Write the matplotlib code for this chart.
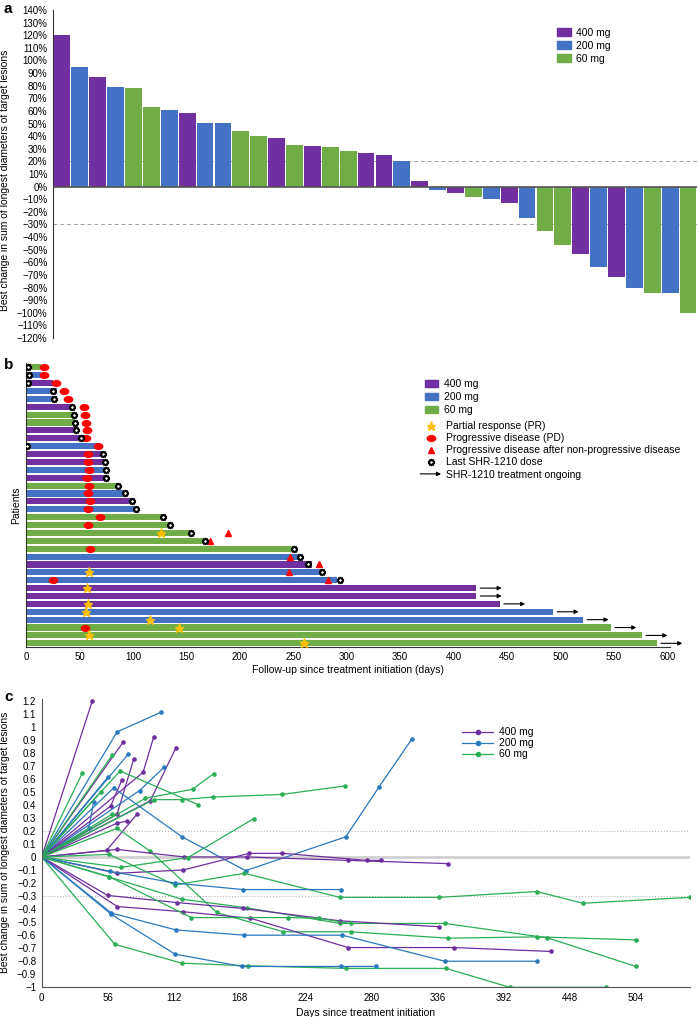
import numpy as np
import matplotlib.pyplot as plt
from matplotlib.patches import Patch, FancyArrowPatch
from matplotlib.lines import Line2D
from matplotlib.path import Path
from matplotlib.transforms import Affine2D
from matplotlib.legend_handler import HandlerBase

plt.rcParams["font.family"] = "sans-serif"
plt.rcParams["font.sans-serif"] = ["Liberation Sans", "DejaVu Sans"]
plt.rcParams["font.size"] = 7

dose_labels = ["400 mg", "200 mg", "60 mg"]
bar_colors = {400: "#7030A0", 200: "#4472C4", 60: "#70AD47"}
line_colors = {400: "#6E2F9E", 200: "#2A78BE", 60: "#2BAE55"}

# ---- panel a: best change per patient (%)
best_change = [120, 95, 87, 79, 78, 63.5, 61, 58, 50.7, 50.2, 44.3, 40, 38.5, 33.2,
               31.8, 31.3, 28.5, 26.5, 25.2, 20.2, 4.2, -2.9, -5.3, -8, -10, -13,
               -24.7, -35.3, -46, -53.3, -63.7, -72, -80.4, -84, -84, -100.3]
best_dose = [400, 200, 400, 200, 60, 60, 200, 400, 200, 200, 60, 60, 400, 60, 400, 60,
             60, 400, 400, 200, 400, 200, 400, 60, 200, 400, 200, 60, 60, 400, 200, 400,
             200, 60, 200, 60]

# ---- panel b: swimmer plot (days)
swim_dose = [60, 200, 400, 200, 200, 400, 60, 60, 400, 400, 200, 400, 400, 200, 400, 60,
             200, 400, 200, 60, 60, 60, 60, 60, 200, 400, 200, 200, 400, 400, 400, 200,
             200, 60, 60, 60]
swim_end = [14, 14, 25, 29, 29, 43, 45, 46, 48, 55, 69, 72, 73, 73, 75, 86, 92, 99, 102,
            128, 134, 154, 167, 251, 255, 268, 280, 291, 421, 421, 443, 493, 521, 547,
            576, 590]
nan = np.nan
last_dose = [2, 3, 2, 25, 26, 43, 45, 46, 47, 51, 1, 72, 74, 75, 75, 86, 93, 99, 103,
             128, 135, 154, 167, 251, 256, 264, 277, 294, nan, nan, nan, nan, nan, nan,
             nan, nan]
pd_day = [17, 17, 28, 36, 39, 54, 55, 56, 57, 56, 67, 58, 58, 59, 57, 59, 58, 60, 58, 69,
          58, nan, nan, 60, nan, nan, nan, 25, nan, nan, nan, nan, nan, 55, nan, nan]
pd_after_day = [nan] * 21 + [189, 172, nan, 247, 274, 246, 283] + [nan] * 8
pr_rows = [22, 27, 29, 31, 32, 33, 34, 35, 36]
pr_days = [126, 59, 57, 58, 56, 116, 143, 59, 260]

# ---- panel c: change over time, one list per patient
spider_dose = [400, 200, 400, 400, 400, 400, 200, 60, 60, 60, 60, 60, 200, 200, 200,
               200, 400, 400, 400, 60, 60, 400, 400, 60, 60, 200, 60, 400, 400, 60, 60,
               200, 200, 60]
spider_days = [
    [0, 43], [0, 64, 101], [0, 69], [0, 64, 78], [0, 86, 95], [0, 92, 114], [0, 73.5],
    [0, 60], [0, 34.5], [0, 66.5, 133], [0, 88, 128, 146],
    [0, 95, 119, 145, 204, 257], [0, 83, 104], [0, 56], [0, 61, 119, 173, 258, 286, 314],
    [0, 40, 44], [0, 58.5, 68], [0, 64, 72], [0, 55, 81],
    [0, 64, 92, 148.5, 205, 262, 345, 420, 504], [0, 60],
    [0, 64, 120, 176, 204, 276, 288], [0, 64, 121, 174, 260, 345],
    [0, 57, 113, 172, 253, 337, 420, 459, 550], [0, 67, 124, 180],
    [0, 58, 113, 171, 254], [0, 57, 119, 174, 253, 342, 429, 504],
    [0, 56, 115, 171, 253, 337], [0, 64, 120, 177, 260, 350, 432],
    [0, 57, 127, 209, 235, 262],
    [0, 62, 119, 175, 258, 343, 397, 479],
    [0, 59, 114, 172, 255, 342, 420], [0, 59, 113, 170, 254, 284], [0, 50]]
spider_vals = [
    [0, 1.2], [0, 0.96, 1.11], [0, 0.88], [0, 0.33, 0.75], [0, 0.65, 0.92], [0, 0.43, 0.84],
    [0, 0.79], [0, 0.785], [0, 0.645], [0, 0.66, 0.40], [0, 0.45, 0.52, 0.64],
    [0, 0.44, 0.44, 0.46, 0.48, 0.545], [0, 0.51, 0.69], [0, 0.61],
    [0, 0.53, 0.155, -0.105, 0.155, 0.535, 0.905], [0, 0.22, 0.42], [0, 0.39, 0.59],
    [0, 0.26, 0.275], [0, 0.05, 0.33],
    [0, 0.22, 0.045, -0.426, -0.574, -0.574, -0.623, -0.613, -0.636], [0, 0.33],
    [0, -0.125, -0.10, 0.028, 0.028, -0.026, -0.026], [0, 0.058, 0.0, 0.0, -0.026, -0.051],
    [0, 0.02, -0.215, -0.125, -0.31, -0.31, -0.265, -0.355, -0.31], [0, -0.08, -0.005, 0.295],
    [0, -0.11, -0.2, -0.25, -0.25], [0, -0.153, -0.324, -0.39, -0.51, -0.51, -0.62, -0.84],
    [0, -0.295, -0.35, -0.395, -0.49, -0.535], [0, -0.38, -0.42, -0.47, -0.695, -0.695, -0.725],
    [0, -0.15, -0.465, -0.465, -0.47, -0.51],
    [0, -0.67, -0.815, -0.835, -0.855, -0.855, -1.0, -1.0],
    [0, -0.43, -0.56, -0.6, -0.6, -0.8, -0.8], [0, -0.44, -0.745, -0.84, -0.84, -0.84],
    [0, 0.5]]

W, H = 699, 1017
fig = plt.figure(figsize=(W / 100, H / 100), dpi=100)


def box(x0, y0, x1, y1):
    return [x0 / W, 1 - y1 / H, (x1 - x0) / W, (y1 - y0) / H]


def minus(s):
    return s.replace("-", "\u2212")


# ================= a
ax = fig.add_axes(box(53, 10, 697, 338))
xs = np.arange(len(best_change))
ax.bar(xs, best_change, width=0.94, color=[bar_colors[d] for d in best_dose], zorder=2)
ax.axhline(0, color="#555555", lw=1.2, zorder=3)
for lv in (20, -30):
    ax.axhline(lv, color="#a0a0a0", lw=0.7, ls=(0, (4, 3)), zorder=1)
ax.set_xlim(-0.5, len(best_change) - 0.5)
ax.set_ylim(-120, 140)
ticks = np.arange(-120, 141, 10)
ax.set_yticks(ticks)
ax.set_yticklabels([minus(f"{t}%") for t in ticks])
ax.set_xticks([])
ax.tick_params(axis="y", length=0, pad=4)
for s in ("top", "right", "bottom"):
    ax.spines[s].set_visible(False)
ax.spines["left"].set_color("#333333")
ax.set_ylabel("Best change in sum of longest diameters of target lesions", fontsize=7.4)
ax.yaxis.set_label_coords(-0.066, 0.48)
ax.legend(handles=[Patch(color=bar_colors[d]) for d in (400, 200, 60)], labels=dose_labels,
          loc="upper left", bbox_to_anchor=(0.774, 0.962), frameon=False, borderpad=0,
          handlelength=1.35, handleheight=0.8, handletextpad=0.5, labelspacing=0.3,
          fontsize=7.5)
fig.text(4 / W, 1 - 2 / H, "a", fontsize=11, fontweight="bold", va="top")

# ================= b
ax = fig.add_axes(box(26, 363.4, 670, 646.7))
rows = np.arange(1, len(swim_end) + 1)
ax.barh(rows, swim_end, height=0.78, color=[bar_colors[d] for d in swim_dose], zorder=2)
ellipse = Path.unit_circle().transformed(Affine2D().scale(1.45, 1.0))
ax.plot(pd_day, rows, ls="none", marker=ellipse, ms=6, color="#FF0000", zorder=4)
ax.plot(pd_after_day, rows, ls="none", marker="^", ms=5, color="#FF0000", zorder=4)
ax.plot(pr_days, pr_rows, ls="none", marker="*", ms=6.5, color="#FFC000", zorder=5)
ax.plot(last_dose, rows, ls="none", marker=(10, 1, 0), ms=5, mfc="white", mec="black",
        mew=1.0, zorder=5)
for r, end, ld in zip(rows, swim_end, last_dose):
    if np.isnan(ld):
        ax.annotate("", xy=(end + 24, r), xytext=(end + 4, r), annotation_clip=False,
                    arrowprops=dict(arrowstyle="-|>", color="black", lw=0.8,
                                    mutation_scale=6, shrinkA=0, shrinkB=0))
ax.set_xlim(0, 602.5)
ax.set_ylim(36.43, 0.5)
ax.set_yticks([])
ax.set_xticks(np.arange(0, 601, 50))
ax.tick_params(axis="x", length=0, pad=4)
for s in ("top", "right"):
    ax.spines[s].set_visible(False)
for s in ("left", "bottom"):
    ax.spines[s].set_color("#333333")
ax.set_xlabel("Follow-up since treatment initiation (days)", fontsize=7.5, labelpad=2)
ax.set_ylabel("Patients", fontsize=7.5)
ax.yaxis.set_label_coords(-0.008, 0.5)

leg1 = ax.legend(handles=[Patch(color=bar_colors[d]) for d in (400, 200, 60)],
                 labels=dose_labels, loc="upper left",
                 bbox_to_anchor=((420 - 26) / 644, (646.7 - 374) / 283.3), frameon=False,
                 borderpad=0, handlelength=1.25, handleheight=0.75, handletextpad=0.6,
                 labelspacing=0.28, fontsize=7.5)
ax.add_artist(leg1)


class ArrowHandler(HandlerBase):
    def create_artists(self, legend, orig_handle, xdescent, ydescent, width, height,
                       fontsize, trans):
        y = height / 2 - ydescent
        arr = FancyArrowPatch((-xdescent, y), (-xdescent + width, y), arrowstyle="-|>",
                              mutation_scale=6, lw=0.8, color="black", transform=trans,
                              shrinkA=0, shrinkB=0)
        return [arr]


arrow_handle = FancyArrowPatch((0, 0), (1, 0))
mk_handles = [
    Line2D([], [], ls="none", marker="*", ms=6.5, color="#FFC000"),
    Line2D([], [], ls="none", marker=ellipse, ms=6, color="#FF0000"),
    Line2D([], [], ls="none", marker="^", ms=5, color="#FF0000"),
    Line2D([], [], ls="none", marker=(10, 1, 0), ms=5, mfc="white", mec="black", mew=1.0),
    arrow_handle]
mk_labels = ["Partial response (PR)", "Progressive disease (PD)",
             "Progressive disease after non-progressive disease", "Last SHR-1210 dose",
             "SHR-1210 treatment ongoing"]
ax.legend(handles=mk_handles, labels=mk_labels, handler_map={arrow_handle: ArrowHandler()},
          loc="upper left", bbox_to_anchor=((415 - 26) / 644, (646.7 - 416) / 283.3),
          frameon=False, borderpad=0, handlelength=2.0, handletextpad=0.45,
          labelspacing=0.2, fontsize=7.5, numpoints=1)
fig.text(4 / W, 1 - 358 / H, "b", fontsize=11, fontweight="bold", va="top")

# ================= c
ax = fig.add_axes(box(41.7, 699.3, 690, 987.3))
ax.axhline(0, color="#d0d0d0", lw=2, zorder=0)
for lv in (0.2, -0.3):
    ax.axhline(lv, color="#aaaaaa", lw=0.7, ls=(0, (1, 2)), zorder=0)
for d, xs_, ys_ in zip(spider_dose, spider_days, spider_vals):
    ax.plot(xs_, ys_, color=line_colors[d], lw=0.9, marker="o", ms=2.3, zorder=2)
ax.set_xlim(0, 550)
ax.set_ylim(-1, 1.21)
ax.set_xticks(np.arange(0, 505, 56))
yt = np.round(np.arange(-1, 1.201, 0.1), 1)
ax.set_yticks(yt)
ylabs = []
for v in yt:
    s = f"{v:.1f}".rstrip("0").rstrip(".")
    if s in ("-0", ""):
        s = "0"
    ylabs.append(minus(s))
ax.set_yticklabels(ylabs)
ax.tick_params(axis="both", length=0, pad=4)
for s in ("top", "right"):
    ax.spines[s].set_visible(False)
for s in ("left", "bottom"):
    ax.spines[s].set_color("#555555")
ax.set_xlabel("Days since treatment initiation", fontsize=7.5, labelpad=4)
ax.set_ylabel("Best change in sum of longest diameters of target lesions", fontsize=7.4)
ax.yaxis.set_label_coords(-0.049, 0.505)
ax.legend(handles=[Line2D([], [], color=line_colors[d], lw=0.9, marker="o", ms=3)
                   for d in (400, 200, 60)],
          labels=dose_labels, loc="upper left",
          bbox_to_anchor=((456.7 - 41.7) / 648.3, (987.3 - 722) / 288), frameon=False,
          borderpad=0, handlelength=3.0, handletextpad=0.6, labelspacing=0.1,
          fontsize=7.5, numpoints=1)
fig.text(4 / W, 1 - 690 / H, "c", fontsize=11, fontweight="bold", va="top")

fig.savefig("out.png", dpi=100)
